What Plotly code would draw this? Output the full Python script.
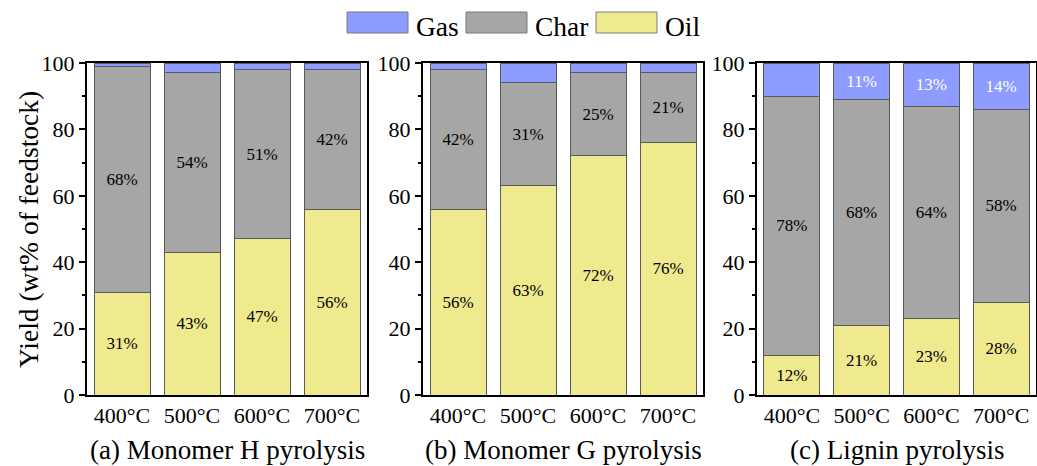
import plotly.graph_objects as go

temps = ["400°C", "500°C", "600°C", "700°C"]

# Product yields (wt% of feedstock)
oil_h = [31, 43, 47, 56]
char_h = [68, 54, 51, 42]
gas_h = [1, 3, 2, 2]

oil_g = [56, 63, 72, 76]
char_g = [42, 31, 25, 21]
gas_g = [2, 6, 3, 3]

oil_l = [12, 21, 23, 28]
char_l = [78, 68, 64, 58]
gas_l = [10, 11, 13, 14]

panel_titles = ["(a) Monomer H pyrolysis", "(b) Monomer G pyrolysis", "(c) Lignin pyrolysis"]
gas_labelled = [[False] * 4, [False] * 4, [False, True, True, True]]

COL_OIL = "#EFEA8E"
COL_CHAR = "#A6A6A6"
COL_GAS = "#8E9CFF"
EDGE = "#5a5a5a"
FONT = "Times New Roman, Liberation Serif, Times, serif"

W, H = 1037, 466
# plot-area pixel bounds of each panel
x_px = [(87, 367), (423, 703), (757, 1036)]
y_top_px, y_bot_px = 63, 395

fig = go.Figure()

panels = [(oil_h, char_h, gas_h), (oil_g, char_g, gas_g), (oil_l, char_l, gas_l)]
for i, (oil, char, gas) in enumerate(panels):
    xa = "x" if i == 0 else f"x{i + 1}"
    ya = "y" if i == 0 else f"y{i + 1}"
    series = [
        ("Oil", oil, COL_OIL, [f"{v}%" for v in oil], "black"),
        ("Char", char, COL_CHAR, [f"{v}%" for v in char], "black"),
        ("Gas", gas, COL_GAS,
         [f"{v}%" if lab else "" for v, lab in zip(gas, gas_labelled[i])], "white"),
    ]
    for name, vals, col, txt, tcol in series:
        fig.add_trace(go.Bar(
            x=temps, y=vals, name=name, xaxis=xa, yaxis=ya,
            marker=dict(color=col, line=dict(color=EDGE, width=1)),
            text=txt, textposition="inside", insidetextanchor="middle",
            textangle=0, constraintext="none",
            textfont=dict(family=FONT, size=17, color=tcol),
            showlegend=False,
        ))

layout = dict(
    width=W, height=H,
    margin=dict(l=0, r=0, t=0, b=0, autoexpand=False),
    paper_bgcolor="white", plot_bgcolor="white",
    barmode="stack", bargap=0.2,
    font=dict(family=FONT, color="black"),
)

y_dom = [(H - y_bot_px) / H, (H - y_top_px) / H]
for i, (x0, x1) in enumerate(x_px):
    sfx = "" if i == 0 else str(i + 1)
    layout[f"xaxis{sfx}"] = dict(
        domain=[x0 / W, x1 / W], anchor=f"y{sfx}", automargin=False,
        type="category", range=[-0.5, 3.5],
        showline=True, linecolor="black", linewidth=2, mirror=True,
        ticks="", showgrid=False,
        tickfont=dict(family=FONT, size=22, color="black"),
    )
    layout[f"yaxis{sfx}"] = dict(
        domain=y_dom, anchor=f"x{sfx}", automargin=False,
        range=[0, 100], tickvals=[0, 20, 40, 60, 80, 100],
        showline=True, linecolor="black", linewidth=2, mirror=True,
        ticks="outside", ticklen=6, tickwidth=2, tickcolor="black",
        minor=dict(ticks="outside", ticklen=3, tickwidth=2, tickcolor="black",
                   tickvals=[10, 30, 50, 70, 90], showgrid=False),
        showgrid=False, zeroline=False,
        tickfont=dict(family=FONT, size=22, color="black"),
    )
fig.update_layout(**layout)

annotations = []
for i, (x0, x1) in enumerate(x_px):
    annotations.append(dict(
        x=(x0 + x1) / 2 / W, y=(H - 450) / H, xref="paper", yref="paper",
        text=panel_titles[i], showarrow=False, xanchor="center", yanchor="middle",
        font=dict(family=FONT, size=27, color="black"),
    ))
annotations.append(dict(
    x=28 / W, y=(H - 230) / H, xref="paper", yref="paper",
    text="Yield (wt% of feedstock)", textangle=-90, showarrow=False,
    xanchor="center", yanchor="middle",
    font=dict(family=FONT, size=27.5, color="black"),
))

# legend drawn as swatches + labels across the top
legend_items = [("Gas", COL_GAS, 347), ("Char", COL_CHAR, 466), ("Oil", COL_OIL, 596)]
shapes = []
for name, col, sx in legend_items:
    shapes.append(dict(
        type="rect", xref="paper", yref="paper",
        x0=sx / W, x1=(sx + 61) / W, y0=(H - 33) / H, y1=(H - 12) / H,
        fillcolor=col, line=dict(color="#7a7a7a", width=1),
    ))
    annotations.append(dict(
        x=(sx + 67) / W, y=(H - 26) / H, xref="paper", yref="paper",
        text=name, showarrow=False, xanchor="left", yanchor="middle",
        font=dict(family=FONT, size=27.5, color="black"),
    ))

fig.update_layout(annotations=annotations, shapes=shapes)
fig.write_html("out.html")
